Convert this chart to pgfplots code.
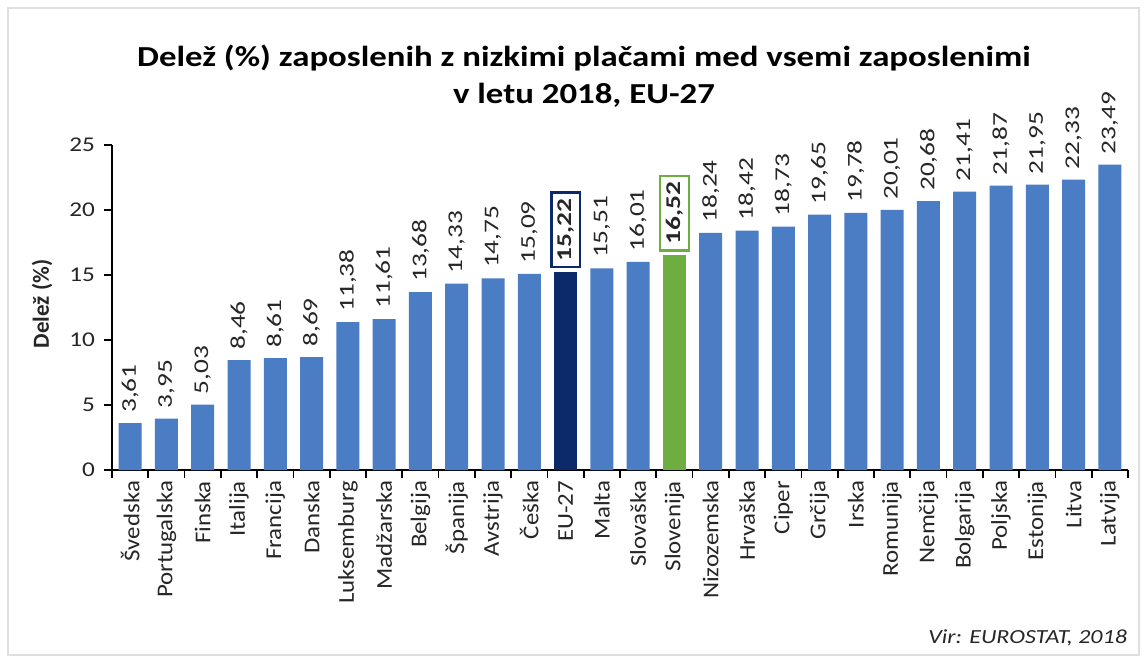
\documentclass[border=0pt]{standalone}
\usepackage{pgfplots}
\pgfplotsset{compat=1.18}
\usepackage{fontspec}
\setmainfont{Carlito}
\newfontfamily\wide[FakeStretch=1.2]{Carlito}
\newfontfamily\wider[FakeStretch=1.3]{Carlito}
\newfontfamily\catfont[FakeStretch=1.1]{Carlito}
\definecolor{barblue}{HTML}{4A7DC4}
\definecolor{navy}{HTML}{0C2A6A}
\definecolor{sgreen}{HTML}{6EAD3F}
\definecolor{txt}{HTML}{262626}
\begin{document}
\begin{tikzpicture}[x=0.5pt,y=0.5pt]
\useasboundingbox (0,0) rectangle (1145,659);
\fill[white] (0,0) rectangle (1145,659);
\draw[gray!25, line width=1pt] (8,4) rectangle (1139,651);
\node[font=\wide\fontsize{14.5}{18.5}\selectfont\bfseries, align=center, text=black] at (584,583) {Delež (\%) zaposlenih z nizkimi plačami med vsemi zaposlenimi\\v letu 2018, EU-27};
\node[rotate=90, font=\fontsize{11.5}{13}\selectfont\bfseries, text=txt] at (42,355) {Delež (\%)};
\node[anchor=east, font=\wide\fontsize{10}{12}\selectfont\itshape, text=txt] at (1134,21) {Vir: EUROSTAT, 2018};
\begin{axis}[
  at={(56pt,94.5pt)}, anchor=south west,
  scale only axis, width=508pt, height=162.5pt,
  xmin=-0.5, xmax=27.5, ymin=0, ymax=25,
  axis x line*=bottom, axis y line*=left,
  axis line style={black, line width=0.8pt},
  tick align=outside, major tick length=4pt,
  tick style={black, line width=0.8pt},
  ytick={0,5,...,25},
  xtick={-0.5,0.5,...,27.5}, xticklabels={},
  extra x ticks={0,1,...,27},
  extra x tick style={major tick length=0pt},
  extra x tick labels={Švedska,Portugalska,Finska,Italija,Francija,Danska,Luksemburg,Madžarska,Belgija,Španija,Avstrija,Češka,EU-27,Malta,Slovaška,Slovenija,Nizozemska,Hrvaška,Ciper,Grčija,Irska,Romunija,Nemčija,Bolgarija,Poljska,Estonija,Litva,Latvija},
  xticklabel shift=2pt,
  x tick label style={rotate=90, anchor=east, font=\catfont\fontsize{11.3}{13}\selectfont, text=txt},
  y tick label style={font=\wide\fontsize{10.5}{12}\selectfont, text=txt, xshift=-1pt},
  /pgf/number format/assume math mode=true,
  nodes near coords={\pgfmathprintnumber[fixed,fixed zerofill,precision=2,use comma]{\pgfplotspointmeta}},
  nodes near coords style={rotate=90, anchor=west, font=\wider\fontsize{10.5}{12}\selectfont, text=txt, inner sep=5pt},
  clip=false,
]
\addplot[ybar, bar width=11.5pt, fill=barblue, draw=none] coordinates {
(0,3.61) (1,3.95) (2,5.03) (3,8.46) (4,8.61) (5,8.69) (6,11.38) (7,11.61) (8,13.68) (9,14.33) (10,14.75) (11,15.09)
(13,15.51) (14,16.01) (16,18.24) (17,18.42) (18,18.73) (19,19.65) (20,19.78) (21,20.01) (22,20.68) (23,21.41) (24,21.87) (25,21.95) (26,22.33) (27,23.49)};
\addplot[ybar, bar width=11.5pt, fill=navy, draw=none,
  nodes near coords style={draw=navy, line width=1.3pt, font=\wider\fontsize{10.5}{12}\selectfont\bfseries, inner sep=3pt, outer sep=2.5pt}] coordinates {(12,15.22)};
\addplot[ybar, bar width=11.5pt, fill=sgreen, draw=none,
  nodes near coords style={draw=sgreen, line width=1.3pt, font=\wider\fontsize{10.5}{12}\selectfont\bfseries, inner sep=3pt, outer sep=2.5pt}] coordinates {(15,16.52)};
\end{axis}
\end{tikzpicture}
\end{document}
